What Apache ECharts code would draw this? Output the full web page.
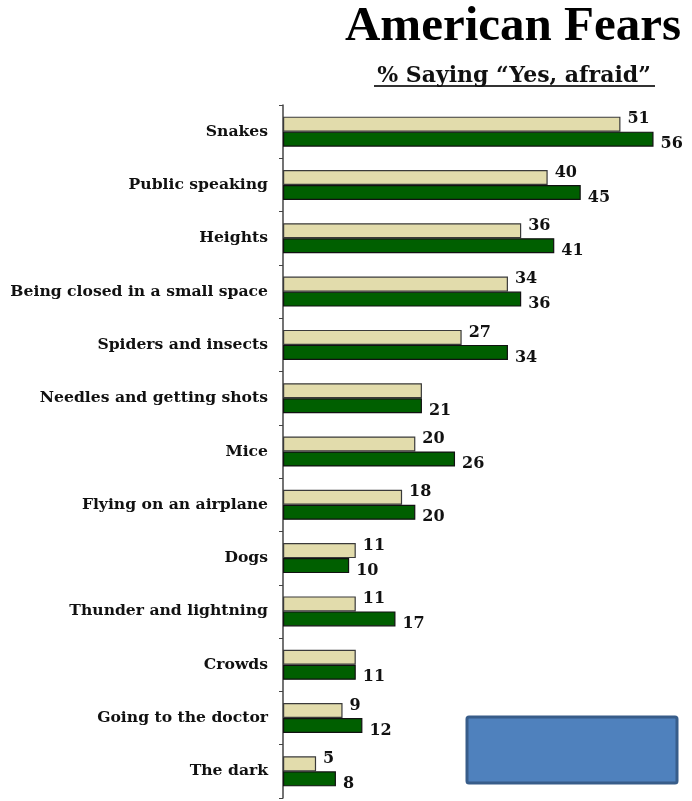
<!DOCTYPE html>
<html>
<head>
<meta charset="utf-8">
<script src="https://cdn.jsdelivr.net/npm/echarts@6/dist/echarts.min.js"></script>
<style>
html,body{margin:0;padding:0;background:#fff;}
#chart{width:692px;height:801px;}
</style>
</head>
<body>
<div id="chart"></div>
<script>
const categories = ["Snakes","Public speaking","Heights","Being closed in a small space","Spiders and insects","Needles and getting shots","Mice","Flying on an airplane","Dogs","Thunder and lightning","Crowds","Going to the doctor","The dark"];
const beigeValues = [51,40,36,34,27,21,20,18,11,11,11,9,5];
const greenValues = [56,45,41,36,34,21,26,20,10,17,11,12,8];
const hideBeigeLabel = ["Needles and getting shots","Crowds"];

const serif = "'Liberation Serif','Times New Roman',serif";
const wideSerif = "'DejaVu Serif','Liberation Serif',serif";
const labelStyle = {fontFamily: wideSerif, fontWeight: 'bold', fontSize: 16, color: '#111'};

const chart = echarts.init(document.getElementById('chart'), null, {renderer: 'canvas'});
chart.setOption({
  backgroundColor: '#fff',
  animation: false,
  title: [{
    text: 'American Fears',
    left: 508, top: -2, textAlign: 'center',
    textStyle: {fontFamily: serif, fontWeight: 'bold', fontSize: 49, color: '#000'}
  },{
    text: '% Saying \u201cYes, afraid\u201d',
    left: 509, top: 60, textAlign: 'center',
    textStyle: {fontFamily: wideSerif, fontWeight: 'bold', fontSize: 22, color: '#111'}
  }],
  graphic: [{
    type: 'line',
    shape: {x1: 374, y1: 86, x2: 655, y2: 86},
    style: {stroke: '#333', lineWidth: 2}
  },{
    type: 'rect',
    shape: {x: 467, y: 717, width: 210, height: 66, r: 2},
    style: {fill: '#4f81bd', stroke: '#385d8a', lineWidth: 3}
  }],
  grid: {left: 283, top: 105, width: 397, bottom: 3},
  xAxis: {
    type: 'value', min: 0, max: 60,
    show: false
  },
  yAxis: {
    type: 'category', data: categories, inverse: true,
    axisLine: {show: true, lineStyle: {color: '#444', width: 1.5}},
    axisTick: {show: true, length: 4, lineStyle: {color: '#444'}},
    axisLabel: {fontFamily: wideSerif, fontWeight: 'bold', fontSize: 15.6, color: '#111', margin: 15}
  },
  series: [{
    type: 'bar',
    name: 'beige',
    data: beigeValues.map((v, i) => ({
      value: v,
      label: {show: hideBeigeLabel.indexOf(categories[i]) < 0}
    })),
    barWidth: 15,
    barGap: '0%',
    itemStyle: {color: '#e2dcac', borderColor: '#3a3a3a', borderWidth: 1.2},
    label: Object.assign({show: true, position: 'right', distance: 7, offset: [0, -5]}, labelStyle)
  },{
    type: 'bar',
    name: 'green',
    data: greenValues,
    barWidth: 15,
    barGap: '0%',
    itemStyle: {color: '#005f00', borderColor: '#111', borderWidth: 1.2},
    label: Object.assign({show: true, position: 'right', distance: 7, offset: [0, 5]}, labelStyle)
  }]
});
</script>
</body>
</html>
